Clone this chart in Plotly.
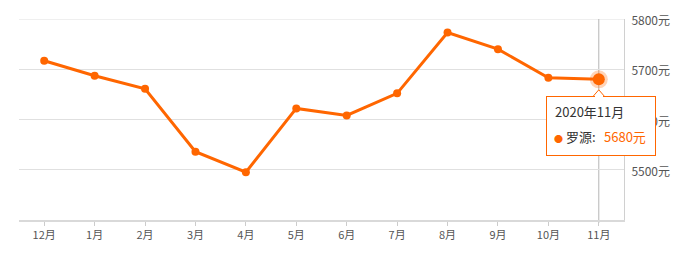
import plotly.graph_objects as go

months = ["12月", "1月", "2月", "3月", "4月", "5月", "6月", "7月", "8月", "9月", "10月", "11月"]
prices = [5717, 5687, 5661, 5536, 5495, 5622, 5608, 5652, 5773, 5740, 5683, 5680]
ytick_vals = [5500, 5600, 5700, 5800]
ytick_text = [f"{v}元" for v in ytick_vals]
series_name = "罗源"
hover_label = "2020年11月"

ORANGE = "#ff6600"
FONT = "Noto Sans CJK SC, Microsoft YaHei, sans-serif"

fig = go.Figure()
fig.add_trace(go.Scatter(
    x=months, y=prices, mode="lines+markers",
    line=dict(color=ORANGE, width=3),
    marker=dict(color=ORANGE, size=8),
    hoverinfo="skip", showlegend=False,
))
# highlighted last point
fig.add_trace(go.Scatter(
    x=[months[-1]], y=[prices[-1]], mode="markers",
    marker=dict(color="rgba(255,102,0,0.28)", size=18),
    hoverinfo="skip", showlegend=False,
))
fig.add_trace(go.Scatter(
    x=[months[-1]], y=[prices[-1]], mode="markers",
    marker=dict(color=ORANGE, size=12),
    hoverinfo="skip", showlegend=False,
))

# top gridline
fig.add_shape(type="line", xref="paper", yref="y", x0=0, x1=1,
              y0=ytick_vals[-1], y1=ytick_vals[-1],
              line=dict(color="#e0e0e0", width=1), layer="below")
# hover guide line
fig.add_shape(type="line", xref="x", yref="paper", x0=months[-1], x1=months[-1],
              y0=-0.015, y1=1, line=dict(color="#b5b5b5", width=1), layer="below")

last_i = len(months) - 1
last_x = months[-1]
last_y = prices[-1]

# tooltip pointer (pixel-sized, anchored to the last point)
fig.add_shape(type="path", xref="x", yref="y", xsizemode="pixel", ysizemode="pixel",
              xanchor=last_i, yanchor=last_y,
              path="M -6.5 -18 L 0 -10.5 L 6.5 -18 Z",
              fillcolor="white", line=dict(color=ORANGE, width=1), layer="above")

# tooltip box
fig.add_annotation(
    x=last_x, y=last_y, xref="x", yref="y",
    text=" ", showarrow=False, width=106, height=56,
    xanchor="center", yanchor="top", yshift=-16.5, xshift=2,
    bgcolor="white", bordercolor=ORANGE, borderwidth=1, borderpad=1,
)
# white cover over the box border under the pointer
fig.add_annotation(
    x=last_x, y=last_y, xref="x", yref="y",
    text=" ", showarrow=False, width=8, height=3,
    xanchor="center", yanchor="middle", yshift=-17,
    bgcolor="white", borderwidth=0, borderpad=0, font=dict(size=1),
)

fig.add_annotation(
    x=last_x, y=last_y, xref="x", yref="y",
    text=hover_label, showarrow=False, xanchor="left", yanchor="middle",
    xshift=-46, yshift=-32.5, font=dict(family=FONT, size=13, color="#333333"),
)
fig.add_annotation(
    x=last_x, y=last_y, xref="x", yref="y",
    text=f"<span style='color:{ORANGE};font-size:9px'>●</span> {series_name}:", showarrow=False,
    xanchor="left", yanchor="middle",
    xshift=-47, yshift=-57, font=dict(family=FONT, size=13, color="#333333"),
)
fig.add_annotation(
    x=last_x, y=last_y, xref="x", yref="y",
    text=f"{last_y}元", showarrow=False,
    xanchor="right", yanchor="middle",
    xshift=49, yshift=-57, font=dict(family=FONT, size=13, color=ORANGE),
)

fig.update_layout(
    width=684, height=254,
    margin=dict(l=19, r=60, t=19, b=34),
    paper_bgcolor="white", plot_bgcolor="white",
    font=dict(family=FONT, size=12, color="#666666"),
    xaxis=dict(
        type="category", range=[-0.5, len(months) - 0.5],
        showgrid=False, showline=True, linecolor="#d9d9d9", linewidth=2,
        ticks="outside", ticklen=4, tickcolor="#cccccc", tickwidth=1,
        tickfont=dict(size=11, color="#555555"), fixedrange=True,
    ),
    yaxis=dict(
        side="right", range=[5400, 5800],
        tickvals=ytick_vals, ticktext=ytick_text,
        showgrid=True, gridcolor="#e0e0e0", gridwidth=1,
        showline=True, linecolor="#d0d0d0", linewidth=1,
        zeroline=False, ticks="", ticklabelstandoff=4, ticklabelshift=2,
        tickfont=dict(size=12, color="#555555"), fixedrange=True,
    ),
)

fig.write_html("out.html")
